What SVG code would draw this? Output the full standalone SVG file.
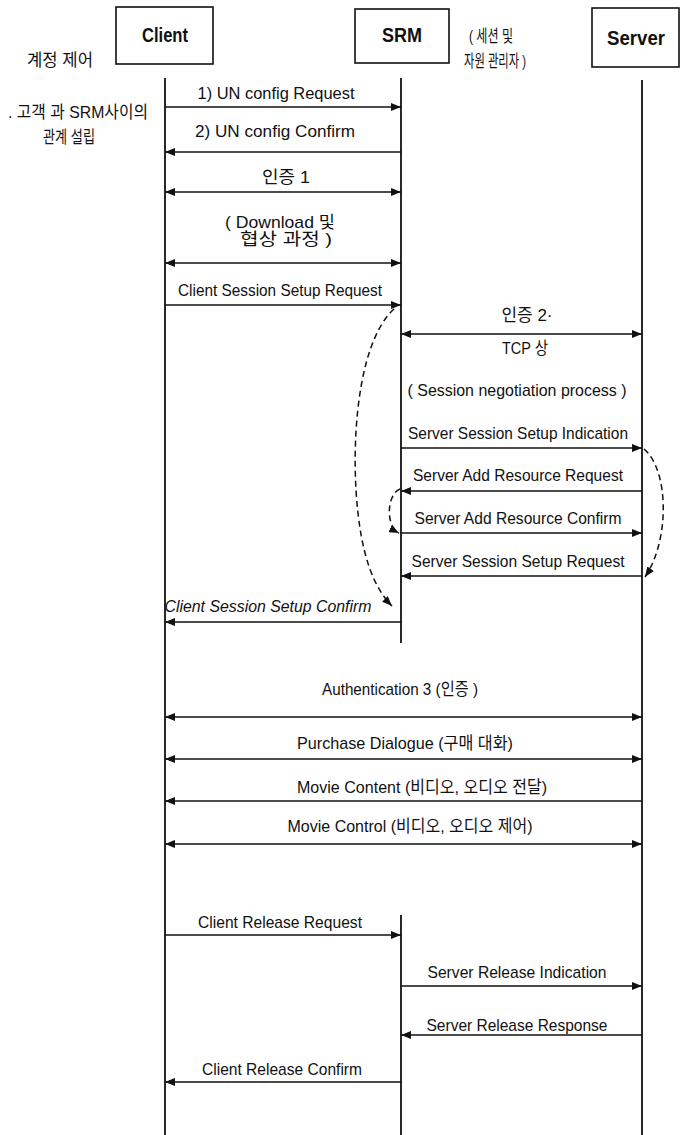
<svg xmlns="http://www.w3.org/2000/svg" width="680" height="1135" viewBox="0 0 680 1135">
<style>
.box{fill:#fff;stroke:#111;stroke-width:1.6}
.life{stroke:#111;stroke-width:1.8;fill:none}
.msg{stroke:#111;stroke-width:1.7;fill:none}
.dash{stroke:#111;stroke-width:1.5;fill:none;stroke-dasharray:6 4}
.t{font-family:"Liberation Sans","Noto Sans CJK KR",sans-serif;font-size:17px;fill:#111;text-anchor:middle}
.h{font-family:"Liberation Sans","Noto Sans CJK KR",sans-serif;font-size:20px;font-weight:bold;fill:#111;text-anchor:middle}
.k{font-family:"Liberation Sans","Noto Sans CJK KR",sans-serif;font-size:17px;fill:#111;text-anchor:middle}
</style>
<defs>
<marker id="ah" viewBox="0 0 10 8" refX="10" refY="4" markerWidth="10" markerHeight="8" markerUnits="userSpaceOnUse" orient="auto-start-reverse">
<path d="M0,0 L10,4 L0,8 Z" fill="#111"/>
</marker>
<marker id="dh" viewBox="0 0 10 8" refX="10" refY="4" markerWidth="10" markerHeight="8" markerUnits="userSpaceOnUse" orient="auto">
<path d="M0,0 L10,4 L0,8 Z" fill="#111"/>
</marker>
</defs>
<rect width="680" height="1135" fill="#fff"/>

<g id="client">
<rect class="box" x="116" y="7" width="97" height="57"/>
<text class="h" x="165" y="42" textLength="46" lengthAdjust="spacingAndGlyphs">Client</text>
<line class="life" x1="165" y1="78" x2="165" y2="1135"/>
</g>
<g id="srm">
<rect class="box" x="355" y="9" width="94" height="54"/>
<text class="h" x="402" y="42" textLength="40" lengthAdjust="spacingAndGlyphs">SRM</text>
<line class="life" x1="401" y1="78" x2="401" y2="643"/>
<line class="life" x1="401" y1="915" x2="401" y2="1135"/>
</g>
<g id="server">
<rect class="box" x="592" y="8" width="87" height="59"/>
<text class="h" x="636" y="45" textLength="58" lengthAdjust="spacingAndGlyphs">Server</text>
<line class="life" x1="642" y1="80" x2="642" y2="1135"/>
</g>
<g id="srm-note">
<text class="k" x="491" y="42" textLength="44" lengthAdjust="spacingAndGlyphs">( 세션 및</text>
<text class="k" x="495" y="67" textLength="62" lengthAdjust="spacingAndGlyphs">자원 관리자 )</text>
</g>
<g id="left-notes">
<text class="k" x="60" y="66" textLength="66" lengthAdjust="spacingAndGlyphs">계정 제어</text>
<text class="k" x="78" y="118" textLength="140" lengthAdjust="spacingAndGlyphs">. 고객 과 SRM사이의</text>
<text class="k" x="69" y="143" textLength="52" lengthAdjust="spacingAndGlyphs">관계 설립</text>
</g>

<g id="connectors">
<line class="msg" x1="165" y1="107" x2="401" y2="107" marker-end="url(#ah)"/>
<line class="msg" x1="401" y1="152" x2="165" y2="152" marker-end="url(#ah)"/>
<line class="msg" x1="165" y1="192" x2="401" y2="192" marker-start="url(#ah)" marker-end="url(#ah)"/>
<line class="msg" x1="165" y1="263" x2="401" y2="263" marker-start="url(#ah)" marker-end="url(#ah)"/>
<line class="msg" x1="165" y1="305" x2="401" y2="305" marker-end="url(#ah)"/>
<line class="msg" x1="401" y1="334" x2="642" y2="334" marker-start="url(#ah)" marker-end="url(#ah)"/>
<line class="msg" x1="401" y1="448" x2="642" y2="448" marker-end="url(#ah)"/>
<line class="msg" x1="642" y1="491" x2="401" y2="491" marker-end="url(#ah)"/>
<line class="msg" x1="401" y1="533" x2="642" y2="533" marker-end="url(#ah)"/>
<line class="msg" x1="642" y1="576" x2="401" y2="576" marker-end="url(#ah)"/>
<line class="msg" x1="401" y1="622" x2="165" y2="622" marker-end="url(#ah)"/>
<line class="msg" x1="165" y1="717" x2="642" y2="717" marker-start="url(#ah)" marker-end="url(#ah)"/>
<line class="msg" x1="165" y1="759" x2="642" y2="759" marker-start="url(#ah)" marker-end="url(#ah)"/>
<line class="msg" x1="642" y1="801" x2="165" y2="801" marker-end="url(#ah)"/>
<line class="msg" x1="165" y1="844" x2="642" y2="844" marker-start="url(#ah)" marker-end="url(#ah)"/>
<line class="msg" x1="165" y1="935" x2="401" y2="935" marker-end="url(#ah)"/>
<line class="msg" x1="401" y1="986" x2="642" y2="986" marker-end="url(#ah)"/>
<line class="msg" x1="642" y1="1035" x2="401" y2="1035" marker-end="url(#ah)"/>
<line class="msg" x1="401" y1="1082" x2="165" y2="1082" marker-end="url(#ah)"/>
<path class="dash" d="M394,309 C362,338 352,420 356,490 C360,555 374,588 392,606" marker-end="url(#dh)"/>
<path class="dash" d="M400,489 C387,494 385,526 399,533" marker-end="url(#dh)"/>
<path class="dash" d="M644,449 C669,470 670,540 645,577" marker-end="url(#dh)"/>

<text class="t" x="276" y="99" textLength="157" lengthAdjust="spacingAndGlyphs">1) UN config Request</text>
<text class="t" x="275" y="137" textLength="160" lengthAdjust="spacingAndGlyphs">2) UN config Confirm</text>
<text class="t" x="286" y="183" textLength="48" lengthAdjust="spacingAndGlyphs">인증 1</text>
<text class="t" x="280" y="228" textLength="110" lengthAdjust="spacingAndGlyphs">( Download 및</text>
<text class="t" x="286" y="245" textLength="92" lengthAdjust="spacingAndGlyphs">협상 과정  )</text>
<text class="t" x="280" y="296" textLength="204" lengthAdjust="spacingAndGlyphs">Client Session Setup Request</text>
<text class="t" x="527" y="321" textLength="51" lengthAdjust="spacingAndGlyphs">인증 2·</text>
<text class="t" x="525" y="354" textLength="46" lengthAdjust="spacingAndGlyphs">TCP 상</text>
<text class="t" x="517" y="396" textLength="219" lengthAdjust="spacingAndGlyphs">( Session negotiation process )</text>
<text class="t" x="518" y="439" textLength="220" lengthAdjust="spacingAndGlyphs">Server Session Setup Indication</text>
<text class="t" x="518" y="481" textLength="210" lengthAdjust="spacingAndGlyphs">Server Add Resource Request</text>
<text class="t" x="518" y="524" textLength="207" lengthAdjust="spacingAndGlyphs">Server Add Resource Confirm</text>
<text class="t" x="518" y="567" textLength="213" lengthAdjust="spacingAndGlyphs">Server Session Setup Request</text>
<text class="t" x="268" y="612" font-style="italic" textLength="207" lengthAdjust="spacingAndGlyphs">Client Session Setup Confirm</text>
<text class="t" x="400" y="695" textLength="156" lengthAdjust="spacingAndGlyphs">Authentication 3 (인증 )</text>
<text class="t" x="405" y="749" textLength="216" lengthAdjust="spacingAndGlyphs">Purchase Dialogue (구매  대화)</text>
<text class="t" x="422" y="793" textLength="250" lengthAdjust="spacingAndGlyphs">Movie Content (비디오, 오디오 전달)</text>
<text class="t" x="410" y="832" textLength="245" lengthAdjust="spacingAndGlyphs">Movie Control (비디오, 오디오 제어)</text>
<text class="t" x="280" y="928" textLength="164" lengthAdjust="spacingAndGlyphs">Client Release Request</text>
<text class="t" x="517" y="978" textLength="179" lengthAdjust="spacingAndGlyphs">Server Release Indication</text>
<text class="t" x="517" y="1031" textLength="181" lengthAdjust="spacingAndGlyphs">Server Release Response</text>
<text class="t" x="282" y="1075" textLength="160" lengthAdjust="spacingAndGlyphs">Client Release Confirm</text>
</g>
</svg>
